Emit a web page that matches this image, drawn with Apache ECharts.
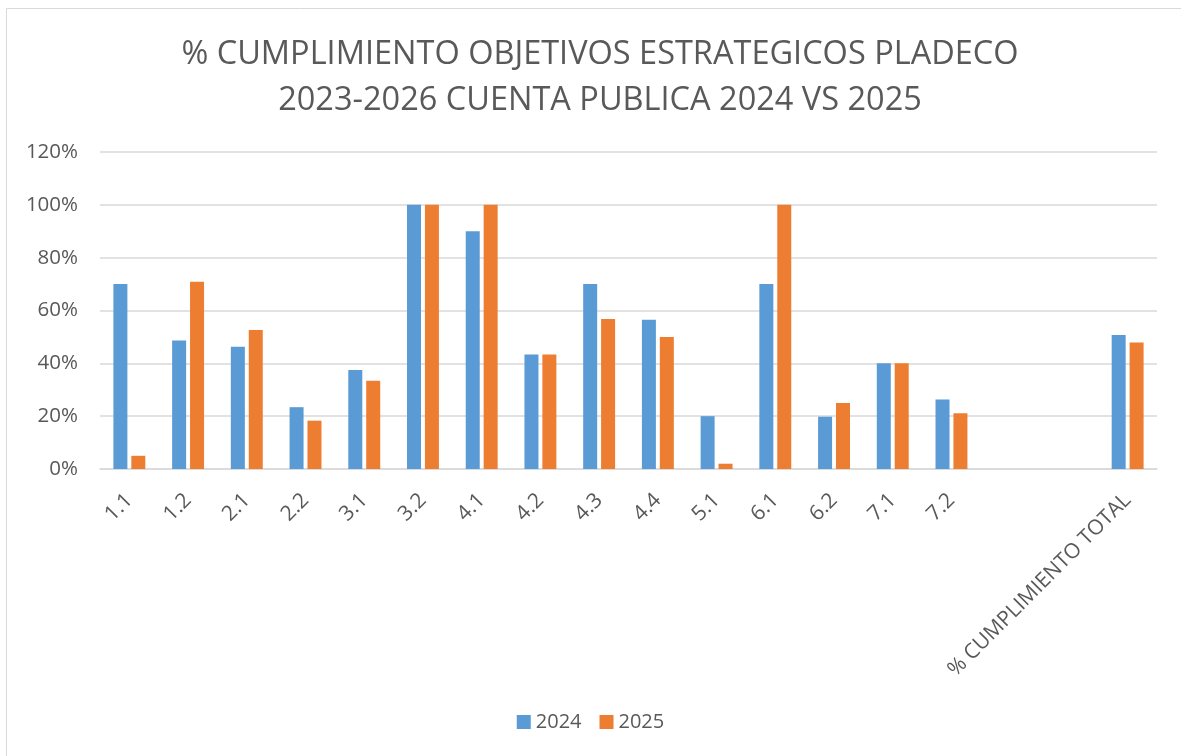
<!DOCTYPE html>
<html>
<head>
<meta charset="utf-8">
<script src="https://cdn.jsdelivr.net/npm/echarts@6/dist/echarts.min.js"></script>
<style>
  html, body { margin: 0; padding: 0; background: #fff; }
  #chart { width: 1181px; height: 756px; }
</style>
</head>
<body>
<div id="chart"></div>
<script>
// categorias (dos vacias antes del total)
const categories = ["1.1", "1.2", "2.1", "2.2", "3.1", "3.2", "4.1", "4.2", "4.3", "4.4",
  "5.1", "6.1", "6.2", "7.1", "7.2", "", "", "% CUMPLIMIENTO TOTAL"];
// % cumplimiento por año
const values2024 = [70, 48.6, 46.3, 23.4, 37.5, 100, 90, 43.3, 70, 56.5,
  20, 70, 19.8, 40, 26.3, null, null, 50.7];
const values2025 = [5, 70.9, 52.6, 18.3, 33.4, 100, 100, 43.3, 56.8, 50,
  2, 100, 25, 40, 21.1, null, null, 47.9];
const yTicks = [0, 20, 40, 60, 80, 100, 120];

const textColor = "#595959";
const font = "Open Sans";

const chart = echarts.init(document.getElementById("chart"));
chart.setOption({
  animation: false,
  color: ["#5B9BD5", "#ED7D31"],
  graphic: [{
    type: "rect",
    shape: { x: 6.5, y: 8.5, width: 1300, height: 900 },
    style: { fill: "none", stroke: "#D9D9D9", lineWidth: 1 },
    silent: true
  }],
  title: {
    text: "% CUMPLIMIENTO OBJETIVOS ESTRATEGICOS PLADECO\n2023-2026 CUENTA PUBLICA 2024 VS 2025",
    left: 595,
    top: 27,
    textAlign: "center",
    textStyle: {
      color: textColor,
      fontFamily: font,
      fontWeight: "normal",
      fontSize: 32.5,
      lineHeight: 46
    }
  },
  legend: {
    data: ["2024", "2025"],
    bottom: 19,
    left: "center",
    icon: "rect",
    itemWidth: 14,
    itemHeight: 14,
    itemGap: 18,
    textStyle: { color: textColor, fontFamily: font, fontSize: 20 }
  },
  grid: {
    left: 100,
    right: 24,
    top: 152,
    bottom: 287,
    containLabel: false
  },
  xAxis: {
    type: "category",
    data: categories,
    axisLine: { lineStyle: { color: "#D9D9D9", width: 1.5 } },
    axisTick: { show: false },
    axisLabel: {
      rotate: 45,
      interval: 0,
      margin: 28,
      color: textColor,
      fontFamily: font,
      fontSize: 21
    }
  },
  yAxis: {
    type: "value",
    min: yTicks[0],
    max: yTicks[yTicks.length - 1],
    interval: 20,
    axisLine: { show: false },
    axisTick: { show: false },
    axisLabel: {
      formatter: "{value}%",
      margin: 22,
      color: textColor,
      fontFamily: font,
      fontSize: 20.5
    },
    splitLine: { lineStyle: { color: "#D9D9D9", width: 1.5 } }
  },
  series: [
    {
      name: "2024",
      type: "bar",
      data: values2024,
      barWidth: 14,
      barGap: "28%"
    },
    {
      name: "2025",
      type: "bar",
      data: values2025,
      barWidth: 14
    }
  ]
});
</script>
</body>
</html>
